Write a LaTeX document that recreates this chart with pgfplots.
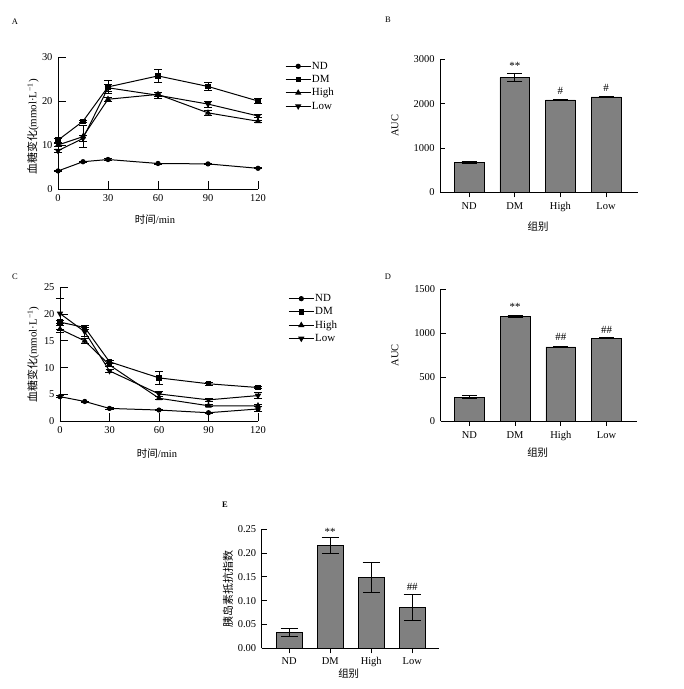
\documentclass[border=0pt]{standalone}
\usepackage{pgfplots}
\pgfplotsset{compat=1.18}
\usepackage{fontspec}
\setmainfont{Liberation Serif}
\newfontfamily\cjk{Noto Sans CJK SC}
\definecolor{barGray}{RGB}{128,128,128}
\tikzset{ann/.style={font=\fontsize{11}{11}\selectfont}}

\pgfplotsset{
  base/.style={
    scale only axis, clip=false,
    axis x line*=bottom, axis y line*=left,
    axis line style={line width=0.9bp, black},
    tick align=inside,
    tick style={black, line width=0.8bp},
    ticklabel style={font=\fontsize{10.5}{12}\selectfont},
    xticklabel style={text height=7bp, text depth=2bp, yshift=-2bp},
    yticklabel style={xshift=-2bp},
    /pgf/number format/assume math mode=true,
    /pgf/number format/1000 sep={},
    label style={font=\fontsize{10.5}{12}\selectfont},
  },
  curve/.style={
    base, major tick length=8bp,
    xmin=0, xmax=120, xtick={0,30,60,90,120},
    legend cell align=left,
    legend style={draw=none, fill=none, inner sep=0pt, anchor=north west,
      font=\fontsize{11}{12}\selectfont, row sep=1.7bp,
      nodes={inner sep=0.8pt, text height=8bp, text depth=2bp}},
    legend image code/.code={\draw[mark repeat=2,mark phase=2,#1]
      plot coordinates {(0bp,0bp) (12.5bp,0bp) (25bp,0bp)};},
  },
  bars/.style={
    base, major tick length=5bp, ybar, ymin=0,
    xtick={0,1,2,3}, xticklabels={ND,DM,High,Low},
  },
  ser/.style={black, line width=1bp, mark options={solid, fill=black},
    error bars/y dir=both, error bars/y explicit,
    error bars/error bar style={line width=0.8bp, black},
    error bars/error mark options={line width=0.8bp, black, mark size=4bp, rotate=90}},
  bar/.style={fill=barGray, draw=black, line width=0.8bp,
    error bars/y dir=both, error bars/y explicit,
    error bars/error bar style={line width=0.8bp, black},
    error bars/error mark options={line width=0.8bp, black, mark size=7.5bp, rotate=90}},
}

% glucose tolerance curve (time, mean, error)
\pgfplotstableread{
t  y    e
0  4.1  0.1
15 6.2  0.15
30 6.7  0.15
60 5.8  0.1
90 5.7  0.1
120 4.7 0.1
}\ogttND
\pgfplotstableread{
t  y    e
0  11.1 0.4
15 15.4 0.3
30 23.2 1.4
60 25.7 1.5
90 23.3 1.0
120 20.0 0.6
}\ogttDM
\pgfplotstableread{
t  y    e
0  10.0 0.3
15 11.9 2.5
30 20.4 0.4
60 21.5 0.5
90 17.3 0.5
120 15.4 0.3
}\ogttHigh
\pgfplotstableread{
t  y    e
0  8.7  0.3
15 11.5 0.6
30 23.0 0.8
60 21.3 0.7
90 19.3 0.7
120 16.6 0.4
}\ogttLow

% insulin tolerance curve
\pgfplotstableread{
t  y    e
0  4.6  0.2
15 3.7  0.1
30 2.4  0.1
60 2.1  0.1
90 1.6  0.1
120 2.3 0.4
}\ittND
\pgfplotstableread{
t  y    e
0  18.5 0.3
15 17.5 0.3
30 11.1 0.3
60 8.1  1.2
90 7.0  0.3
120 6.3 0.2
}\ittDM
\pgfplotstableread{
t  y    e
0  17.2 0.6
15 15.0 0.4
30 10.5 0.3
60 4.3  0.3
90 2.9  0.2
120 2.9 0.2
}\ittHigh
\pgfplotstableread{
t  y    e
0  20.1 2.9
15 16.7 0.9
30 9.4  0.3
60 5.1  0.5
90 4.0  0.2
120 4.8 0.5
}\ittLow

% areas under the curves and insulin resistance index
\pgfplotstableread{
x y e
0 677 15
1 2586 95
2 2083 20
3 2150 10
}\aucOGTT
\pgfplotstableread{
x y e
0 273 20
1 1192 15
2 843 10
3 942 5
}\aucITT
\pgfplotstableread{
x y e
0 0.033 0.009
1 0.216 0.017
2 0.149 0.032
3 0.086 0.027
}\homa

\begin{document}
\begin{tikzpicture}
\useasboundingbox (0bp,0bp) rectangle (684bp,689bp);
\tikzset{lbl/.style={font=\fontsize{8.5}{9}\selectfont, anchor=center}}
\node[lbl] at (15bp,667bp) {A};
\node[lbl] at (388bp,669bp) {B};
\node[lbl] at (15bp,412bp) {C};
\node[lbl] at (388bp,412bp) {D};
\node[lbl, font=\fontsize{8.5}{9}\selectfont\bfseries] at (225bp,184bp) {E};

% A: glucose tolerance
\begin{axis}[curve, at={(58bp,500bp)}, anchor=south west,
  width=200bp, height=132bp, ymin=0, ymax=30, ytick={0,10,20,30},
  xlabel={{\cjk 时间}/min}, ylabel={{\cjk 血糖变化}(mmol·L\textsuperscript{−1})},
  xlabel style={at={(axis description cs:0.485,-0.235)}, anchor=center},
  ylabel style={at={(axis description cs:-0.125,0.47)}, anchor=center, font=\fontsize{11}{12}\selectfont},
  legend style={at={(axis description cs:1.135,0.975)}},
]
\addplot[ser, mark=*, mark size=2.1bp] table[x=t,y=y,y error=e] {\ogttND};
\addlegendentry{ND}
\addplot[ser, mark=square*, mark size=2.2bp] table[x=t,y=y,y error=e] {\ogttDM};
\addlegendentry{DM}
\addplot[ser, mark=triangle*, mark size=2.7bp] table[x=t,y=y,y error=e] {\ogttHigh};
\addlegendentry{High}
\addplot[ser, mark=triangle*, mark size=2.7bp, mark options={rotate=180}] table[x=t,y=y,y error=e] {\ogttLow};
\addlegendentry{Low}
\end{axis}

% B: AUC of glucose tolerance
\begin{axis}[bars, at={(440bp,496.7bp)}, anchor=south west,
  width=198bp, height=133bp, xmin=-0.64, xmax=3.70, bar width=29.7bp,
  ymax=3000, ytick={0,1000,2000,3000},
  xlabel={\cjk 组别}, ylabel={AUC},
  xlabel style={at={(axis description cs:0.495,-0.26)}, anchor=center},
  ylabel style={at={(axis description cs:-0.227,0.5)}, anchor=center},
]
\addplot[bar] table[x=x,y=y,y error=e] {\aucOGTT};
\node[ann] at (axis cs:1,2856) {**};
\node[ann] at (axis cs:2,2282) {\#};
\node[ann] at (axis cs:3,2360) {\#};
\end{axis}

% C: insulin tolerance
\begin{axis}[curve, at={(60bp,267.7bp)}, anchor=south west,
  width=198bp, height=134bp, ymin=0, ymax=25, ytick={0,5,10,15,20,25},
  xlabel={{\cjk 时间}/min}, ylabel={{\cjk 血糖变化}(mmol·L\textsuperscript{−1})},
  xlabel style={at={(axis description cs:0.49,-0.237)}, anchor=center},
  ylabel style={at={(axis description cs:-0.136,0.5)}, anchor=center, font=\fontsize{11}{12}\selectfont},
  legend style={at={(axis description cs:1.152,0.96)}},
]
\addplot[ser, mark=*, mark size=2.1bp] table[x=t,y=y,y error=e] {\ittND};
\addlegendentry{ND}
\addplot[ser, mark=square*, mark size=2.2bp] table[x=t,y=y,y error=e] {\ittDM};
\addlegendentry{DM}
\addplot[ser, mark=triangle*, mark size=2.7bp] table[x=t,y=y,y error=e] {\ittHigh};
\addlegendentry{High}
\addplot[ser, mark=triangle*, mark size=2.7bp, mark options={rotate=180}] table[x=t,y=y,y error=e] {\ittLow};
\addlegendentry{Low}
\end{axis}

% D: AUC of insulin tolerance
\begin{axis}[bars, at={(440.7bp,268bp)}, anchor=south west,
  width=196bp, height=131.7bp, xmin=-0.626, xmax=3.66, bar width=29.7bp,
  ymax=1500, ytick={0,500,1000,1500},
  xlabel={\cjk 组别}, ylabel={AUC},
  xlabel style={at={(axis description cs:0.495,-0.243)}, anchor=center},
  ylabel style={at={(axis description cs:-0.233,0.5)}, anchor=center},
]
\addplot[bar] table[x=x,y=y,y error=e] {\aucITT};
\node[ann] at (axis cs:1,1302) {**};
\node[ann] at (axis cs:2,960) {\#\#};
\node[ann] at (axis cs:3,1036) {\#\#};
\end{axis}

% E: insulin resistance index
\begin{axis}[bars, at={(261.7bp,40.7bp)}, anchor=south west,
  width=177.6bp, height=119bp, xmin=-0.67, xmax=3.66, bar width=26bp,
  ymax=0.25, ytick={0,0.05,0.10,0.15,0.20,0.25},
  xticklabel style={yshift=1.5bp},
  yticklabel style={/pgf/number format/.cd, fixed, fixed zerofill, precision=2},
  xlabel={\cjk 组别}, ylabel={\cjk 胰岛素抵抗指数},
  xlabel style={at={(axis description cs:0.49,-0.21)}, anchor=center},
  ylabel style={at={(axis description cs:-0.19,0.5)}, anchor=center, font=\fontsize{11}{12}\selectfont},
]
\addplot[bar, error bars/error mark options={line width=0.8bp, black, mark size=8.5bp, rotate=90}] table[x=x,y=y,y error=e] {\homa};
\node[ann] at (axis cs:1,0.245) {**};
\node[ann] at (axis cs:3,0.128) {\#\#};
\end{axis}
\end{tikzpicture}
\end{document}
